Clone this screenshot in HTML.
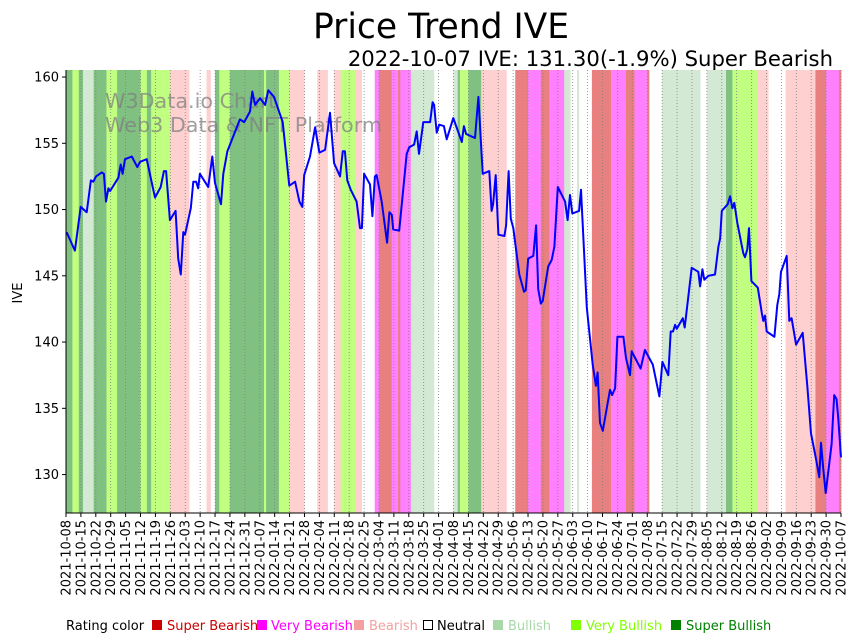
<!DOCTYPE html>
<html><head><meta charset="utf-8"><style>
html,body{margin:0;padding:0;background:#fff;}
svg{display:block;font-family:"DejaVu Sans","Liberation Sans",sans-serif;}
</style></head><body>
<svg id="chart" width="857" height="641" viewBox="0 0 857 641" xmlns="http://www.w3.org/2000/svg">
<text x="441" y="38" font-size="34.5" text-anchor="middle" fill="#000">Price Trend IVE</text>
<text x="833" y="66" font-size="21.2" text-anchor="end" fill="#000">2022-10-07 IVE: 131.30(-1.9%) Super Bearish</text>
<g id="bands"></g>
<g id="grid"></g>
<g fill="#808080" fill-opacity="0.75" font-size="20.7">
<text x="105" y="108">W3Data.io Chart</text>
<text x="105" y="132">Web3 Data &amp; NFT Platform</text>
</g>
<path id="priceLine" fill="none" stroke="#0000ff" stroke-width="2" stroke-linejoin="round"/>
<g id="axes"></g>
<text transform="translate(22,293) rotate(-90)" font-size="13" text-anchor="middle">IVE</text>
<g font-size="13">
<text x="66" y="630" fill="#000">Rating color</text>
<g><rect x="152" y="620" width="10" height="10" fill="#cc0000"/><text x="167" y="630" fill="#cc0000">Super Bearish</text></g>
<g><rect x="257" y="620" width="10" height="10" fill="#ff00ff"/><text x="271" y="630" fill="#ff00ff">Very Bearish</text></g>
<g><rect x="354" y="620" width="10" height="10" fill="#f4a0a0"/><text x="369" y="630" fill="#f4a0a0">Bearish</text></g>
<g><rect x="423.5" y="620.5" width="9" height="9" fill="#fff" stroke="#000"/><text x="437" y="630" fill="#000">Neutral</text></g>
<g><rect x="493" y="620" width="10" height="10" fill="#a8d8a8"/><text x="508" y="630" fill="#a8d8a8">Bullish</text></g>
<g><rect x="571" y="620" width="10" height="10" fill="#80ff00"/><text x="586" y="630" fill="#80ff00">Very Bullish</text></g>
<g><rect x="671" y="620" width="10" height="10" fill="#008000"/><text x="686" y="630" fill="#008000">Super Bullish</text></g>
</g>
</svg>
<script>
const bandStarts=[0,3,6,8,13,19,24,35,38,40,49,58,66,68,70,72,77,93,94,100,105,112,118,123,126,129,136,139,145,147,153,156,157,162,173,182,184,185,189,195,207,211,217,223,227,234,237,240,241,247,256,263,267,273,274,280,298,301,303,310,313,325,330,338,352,357,363];
const bandRatings=["SBu","VBu","SBu","Bu","SBu","VBu","SBu","VBu","SBu","VBu","B","N","B","N","SBu","VBu","SBu","VBu","SBu","VBu","B","N","B","N","B","VBu","B","N","VB","SB","VB","SB","VB","Bu","N","Bu","SBu","VBu","SBu","B","N","SB","VB","SB","VB","Bu","N","Bu","N","SB","VB","SB","VB","SB","N","Bu","N","Bu","Bu","SBu","VBu","B","N","B","SB","VB","SB"];
const days=[0.3,4.2,6.9,9.7,11.7,12.8,14.1,16.8,17.8,18.8,19.9,20.7,24.6,25.7,26.6,27.7,30.9,33.5,34.8,37.9,41.8,44.5,46.0,47.0,48.8,51.5,52.7,53.9,55.1,55.9,58.6,59.8,61.1,62.1,62.9,66.8,68.7,70.0,72.8,73.9,75.8,81.7,83.7,86.4,87.5,88.8,91.1,93.5,95.0,97.7,101.8,104.9,107.6,109.6,111.0,111.9,114.6,117.0,119.0,121.7,124.0,125.9,128.7,130.0,131.0,132.1,133.7,136.5,138.1,139.0,140.0,142.8,143.9,145.1,145.9,148.3,150.8,151.9,153.0,153.7,156.5,160.0,161.2,163.5,164.7,165.8,167.8,171.0,172.2,172.9,174.1,175.3,177.5,178.8,181.9,185.9,186.9,187.9,192.1,193.7,195.7,198.8,199.9,200.6,201.8,203.1,205.9,206.7,207.9,208.9,210.1,212.9,215.1,215.9,217.1,219.5,220.8,221.8,223.0,223.9,226.5,228.1,229.4,231.0,234.4,235.6,236.7,237.8,241.0,241.9,244.6,247.4,248.9,249.7,250.8,252.1,255.5,256.5,257.9,259.0,261.8,263.0,264.9,265.7,269.9,271.9,275.6,278.7,280.1,282.9,284.0,285.1,286.1,286.9,289.7,290.6,293.9,297.0,297.8,298.9,299.8,301.7,304.8,306.4,307.2,308.0,310.8,311.9,313.0,313.9,315.3,318.1,318.9,320.0,320.8,321.9,324.9,326.8,327.5,328.3,329.1,332.7,334.1,335.0,335.8,338.5,339.7,340.8,342.9,346.0,348.2,349.9,352.1,353.8,354.6,355.7,356.8,359.6,360.8,361.9,362.7,364.0];
const prices=[148.3,146.9,150.2,149.8,152.2,152.1,152.5,152.8,152.7,150.6,151.6,151.4,152.4,153.4,152.7,153.8,154.0,153.2,153.6,153.8,150.9,151.7,152.9,152.9,149.2,149.9,146.3,145.1,148.3,148.1,150.1,152.1,152.1,151.6,152.7,151.7,154.0,152.0,150.4,152.7,154.4,156.8,156.6,157.4,158.9,157.9,158.4,157.9,159.0,158.5,156.6,151.8,152.1,150.6,150.2,152.6,154.0,156.2,154.3,154.5,157.3,153.5,152.5,154.4,154.4,152.2,151.5,150.6,148.6,148.6,152.7,151.9,149.5,152.5,152.6,150.6,147.5,149.8,149.6,148.5,148.4,154.2,154.7,154.9,155.9,154.2,156.6,156.6,158.1,157.9,155.8,156.4,156.3,155.3,156.9,155.1,156.3,155.7,155.4,158.5,152.7,152.9,149.9,150.4,152.6,148.1,148.0,148.8,152.9,149.3,148.6,145.1,143.8,143.9,146.3,146.5,148.8,144.0,142.9,143.1,145.7,146.2,147.2,151.7,150.6,149.2,151.1,149.7,149.9,151.5,142.6,138.3,136.7,137.7,133.9,133.3,136.4,136.0,136.5,140.4,140.4,138.8,137.5,139.3,138.0,139.4,138.3,135.9,138.5,137.5,140.8,140.8,141.3,141.0,141.8,141.1,145.6,145.3,144.2,145.5,144.7,145.0,145.1,147.2,147.8,149.9,150.4,151.0,150.1,150.5,149.0,146.7,146.4,147.0,148.6,144.6,144.1,142.2,141.6,142.0,140.8,140.4,142.8,143.6,145.3,146.5,141.6,141.8,139.8,140.7,136.6,133.1,131.3,129.8,132.4,130.4,128.6,132.3,136.0,135.7,134.3,131.3];
const yTicks=[130,135,140,145,150,155,160];
const startDate="2021-10-08", totalDays=364, tickStepDays=7;

const NS="http://www.w3.org/2000/svg";
const L=66,R=841,T=70,B=513,YMIN=127.1,YMAX=160.53;
const xS=d=>L+d*(R-L)/totalDays;
const yS=v=>B-(v-YMIN)*(B-T)/(YMAX-YMIN);
const colors={SB:"#e88080",VB:"#ff80ff",B:"#ffd0d0",N:"#ffffff",Bu:"#d4e9d4",VBu:"#c0ff80",SBu:"#80c080"};
function mk(tag,attrs,parent){const e=document.createElementNS(NS,tag);for(const k in attrs)e.setAttribute(k,attrs[k]);parent.appendChild(e);return e;}
const bands=document.getElementById('bands');
bandStarts.forEach((s,i)=>{
  const e=(i+1<bandStarts.length)?bandStarts[i+1]:totalDays;
  const r=mk('rect',{x:xS(s),y:T,width:Math.max(0,xS(e)-xS(s))+0.3,height:B-T,fill:colors[bandRatings[i]]},bands);
  
  
});
const grid=document.getElementById('grid'),axes=document.getElementById('axes');
const base=new Date(startDate+"T00:00:00Z");
const tickLabels=[];
for(let d=0;d<=totalDays;d+=tickStepDays){const dt=new Date(base.getTime()+d*86400000);tickLabels.push(dt.toISOString().slice(0,10));}
tickLabels.forEach((lab,i)=>{
  const x=xS(i*tickStepDays);
  const g=mk('line',{x1:x,x2:x,y1:T,y2:B,stroke:"#808080","stroke-width":0.8,"stroke-dasharray":"1,2"},grid);
  
  
  mk('line',{x1:x,x2:x,y1:B,y2:B+4,stroke:"#000","stroke-width":1},axes);
  const t=mk('text',{transform:`translate(${x+4.5},${B+7}) rotate(-90)`,"font-size":13,"text-anchor":"end"},axes);
  t.textContent=lab;
  
  
});
yTicks.forEach(v=>{
  const y=yS(v);
  mk('line',{x1:L-4,x2:L,y1:y,y2:y,stroke:"#000","stroke-width":1},axes);
  const t=mk('text',{x:L-7,y:y+4.5,"font-size":13,"text-anchor":"end"},axes);
  t.textContent=v;
  
  
});
const sp1=mk('line',{x1:L,x2:L,y1:T,y2:B,stroke:"#000","stroke-width":1},axes);


const sp2=mk('line',{x1:L,x2:R,y1:B,y2:B,stroke:"#000","stroke-width":1},axes);


document.getElementById('priceLine').setAttribute('d',days.map((d,i)=>(i?'L':'M')+xS(d).toFixed(1)+','+yS(prices[i]).toFixed(1)).join(' '));
</script>
</body></html>
